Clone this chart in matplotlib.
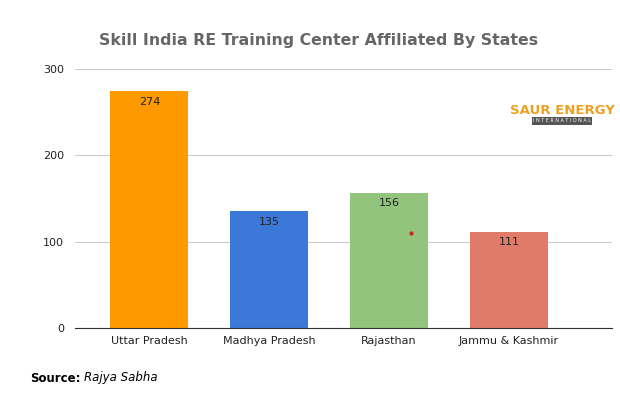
import matplotlib
matplotlib.use("Agg")
import matplotlib.pyplot as plt

states = ["Uttar Pradesh", "Madhya Pradesh", "Rajasthan", "Jammu & Kashmir"]
centers = [274, 135, 156, 111]
colors = ["#FF9900", "#3C78D8", "#93C47D", "#E07B6A"]
yticks = [0, 100, 200, 300]

fig = plt.figure(figsize=(6.2, 4.0), dpi=100)
ax = fig.add_axes([75/620, 1-328/400, 537/620, 259/400])
x = list(range(len(states)))
ax.bar(x, centers, width=0.65, color=colors, zorder=2)
for xi, v in zip(x, centers):
    ax.text(xi, v - 6, str(v), ha="center", va="top", fontsize=8, color="#222222", zorder=3)
ax.set_xlim(-0.62, 3.86)
ax.set_ylim(0, 300)
ax.set_yticks(yticks)
ax.set_xticks(x)
ax.set_xticklabels(states, fontsize=8, color="#222222")
ax.tick_params(axis="y", labelsize=8, colors="#222222", length=0, pad=8)
ax.tick_params(axis="x", length=0, pad=6)
ax.grid(axis="y", color="#cccccc", linewidth=0.8, zorder=0)
for s in ["top", "right", "left"]:
    ax.spines[s].set_visible(False)
ax.spines["bottom"].set_color("#333333")
ax.plot([2.18], [110], marker="o", markersize=2, color="#cc2222", zorder=3)

fig.text(319/620, 1-40/400, "Skill India RE Training Center Affiliated By States",
         ha="center", va="center", fontsize=11.3, fontweight="bold", color="#666666")
fig.text(562/620, 1-110/400, "SAUR ENERGY", ha="center", va="center", fontsize=9.5,
         fontweight="bold", color="#F0A020", family="Liberation Sans Narrow")
fig.text(562/620, 1-121/400, "I N T E R N A T I O N A L", ha="center", va="center", fontsize=3.5,
         color="white", bbox=dict(facecolor="#555555", edgecolor="none", pad=0.8))
fig.text(30/620, 1-378/400, "Source:", ha="left", va="center", fontsize=8.5, fontweight="bold")
fig.text(84/620, 1-378/400, "Rajya Sabha", ha="left", va="center", fontsize=8.5, style="italic")
fig.savefig("out.png", dpi=100, facecolor="white")
